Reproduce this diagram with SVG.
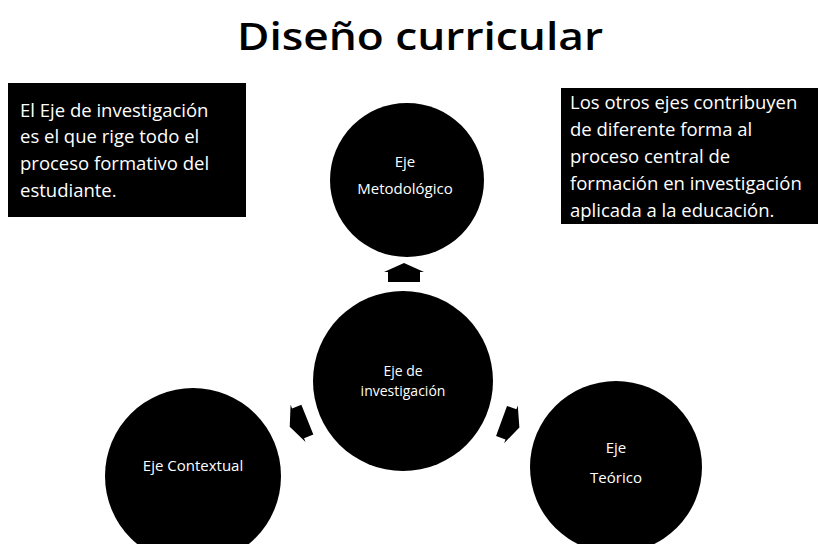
<svg xmlns="http://www.w3.org/2000/svg" width="818" height="544" viewBox="0 0 818 544">
<style>
.title{font-family:"Open Sans","Liberation Sans",sans-serif;font-size:38px;font-weight:600;fill:#000;text-anchor:middle}
.box{fill:#000}
.bt{font-family:"Open Sans","Liberation Sans",sans-serif;font-size:18.5px;fill:#fff}
.node{fill:#000}
.nt{font-family:"Open Sans","Liberation Sans",sans-serif;font-size:15px;fill:#fff;text-anchor:middle}
.arrow{fill:#000}
</style>
<defs>
<path id="blk" d="M -9,-16 L 1,-16 L 1,-20 L 10,0 L 1,20 L 1,16 L -9,16 Z"/>
</defs>
<rect width="818" height="544" fill="#fff"/>
<text class="title" x="420" y="50" textLength="366" lengthAdjust="spacingAndGlyphs">Diseño curricular</text>

<g id="note-left">
<rect class="box" x="8" y="83" width="238" height="134"/>
<text class="bt" x="20" y="117">El Eje de investigación</text>
<text class="bt" x="20" y="143">es el que rige todo el</text>
<text class="bt" x="20" y="170">proceso formativo del</text>
<text class="bt" x="20" y="197">estudiante.</text>
</g>

<g id="note-right">
<rect class="box" x="561" y="88" width="257" height="136"/>
<text class="bt" x="570" y="109">Los otros ejes contribuyen</text>
<text class="bt" x="570" y="136">de diferente forma al</text>
<text class="bt" x="570" y="163">proceso central de</text>
<text class="bt" x="570" y="190">formación en investigación</text>
<text class="bt" x="570" y="217">aplicada a la educación.</text>
</g>

<g id="connectors">
<use href="#blk" class="arrow" transform="translate(404,273) rotate(-90)"/>
<use href="#blk" class="arrow" transform="translate(299,423) rotate(158)"/>
<use href="#blk" class="arrow" transform="translate(510,424) rotate(20)"/>
</g>

<g id="eje-metodologico">
<circle class="node" cx="407" cy="180" r="77"/>
<text class="nt" x="405" y="167">Eje</text>
<text class="nt" x="405" y="194">Metodológico</text>
</g>

<g id="eje-investigacion">
<circle class="node" cx="403" cy="381" r="90"/>
<text class="nt" x="403" y="376" style="font-size:14px">Eje de</text>
<text class="nt" x="403" y="396" style="font-size:14px">investigación</text>
</g>

<g id="eje-contextual">
<circle class="node" cx="193" cy="476" r="88"/>
<text class="nt" x="193" y="471">Eje Contextual</text>
</g>

<g id="eje-teorico">
<circle class="node" cx="616" cy="467" r="86"/>
<text class="nt" x="616" y="453">Eje</text>
<text class="nt" x="616" y="483">Teórico</text>
</g>
</svg>
